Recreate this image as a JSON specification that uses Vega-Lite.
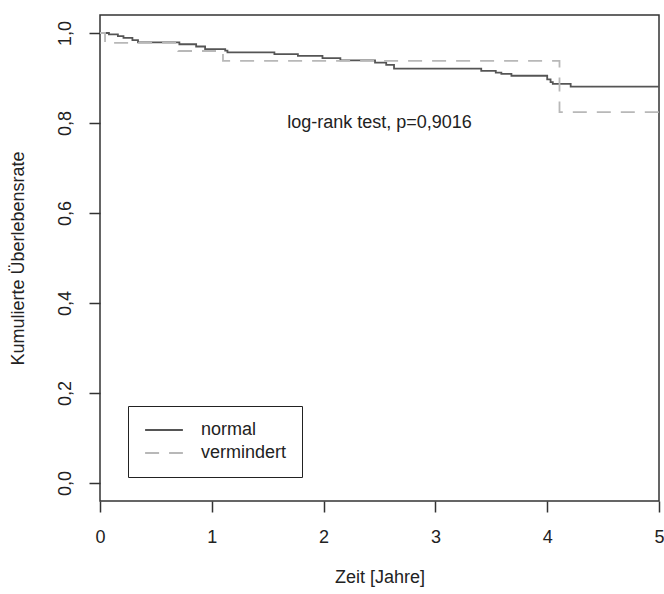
{
  "$schema": "https://vega.github.io/schema/vega-lite/v6.json",
  "autosize": "none",
  "width": 559,
  "height": 486,
  "padding": {"left": 100, "top": 15, "right": 5, "bottom": 93},
  "background": "white",
  "config": {
    "font": "Liberation Sans",
    "view": {"stroke": "#333333", "strokeWidth": 1.5},
    "axis": {
      "grid": false,
      "domain": false,
      "tickColor": "#333333",
      "tickWidth": 1.5,
      "tickSize": 11,
      "labelFont": "Liberation Sans",
      "labelFontSize": 18,
      "labelColor": "#222222",
      "titleFont": "Liberation Sans",
      "titleFontSize": 18,
      "titleFontWeight": "normal",
      "titleColor": "#222222"
    },
    "legend": {
      "labelFont": "Liberation Sans",
      "labelFontSize": 18,
      "labelColor": "#222222"
    }
  },
  "datasets": {
    "km": [
      {"gruppe": "normal", "zeit": 0, "rate": 1.0},
      {"gruppe": "normal", "zeit": 0.08, "rate": 0.997},
      {"gruppe": "normal", "zeit": 0.16, "rate": 0.993},
      {"gruppe": "normal", "zeit": 0.21, "rate": 0.989},
      {"gruppe": "normal", "zeit": 0.29, "rate": 0.984},
      {"gruppe": "normal", "zeit": 0.34, "rate": 0.979},
      {"gruppe": "normal", "zeit": 0.71, "rate": 0.975},
      {"gruppe": "normal", "zeit": 0.86, "rate": 0.970},
      {"gruppe": "normal", "zeit": 0.94, "rate": 0.964},
      {"gruppe": "normal", "zeit": 1.12, "rate": 0.961},
      {"gruppe": "normal", "zeit": 1.14, "rate": 0.957},
      {"gruppe": "normal", "zeit": 1.56, "rate": 0.953},
      {"gruppe": "normal", "zeit": 1.77, "rate": 0.949},
      {"gruppe": "normal", "zeit": 1.99, "rate": 0.944},
      {"gruppe": "normal", "zeit": 2.15, "rate": 0.939},
      {"gruppe": "normal", "zeit": 2.46, "rate": 0.934},
      {"gruppe": "normal", "zeit": 2.56, "rate": 0.929},
      {"gruppe": "normal", "zeit": 2.63, "rate": 0.921},
      {"gruppe": "normal", "zeit": 3.41, "rate": 0.916},
      {"gruppe": "normal", "zeit": 3.54, "rate": 0.912},
      {"gruppe": "normal", "zeit": 3.59, "rate": 0.909},
      {"gruppe": "normal", "zeit": 3.68, "rate": 0.905},
      {"gruppe": "normal", "zeit": 4.0, "rate": 0.897},
      {"gruppe": "normal", "zeit": 4.03, "rate": 0.891},
      {"gruppe": "normal", "zeit": 4.05, "rate": 0.887},
      {"gruppe": "normal", "zeit": 4.21, "rate": 0.881},
      {"gruppe": "normal", "zeit": 5.0, "rate": 0.881},
      {"gruppe": "vermindert", "zeit": 0, "rate": 1.0},
      {"gruppe": "vermindert", "zeit": 0.045, "rate": 0.978},
      {"gruppe": "vermindert", "zeit": 0.7, "rate": 0.96},
      {"gruppe": "vermindert", "zeit": 1.1, "rate": 0.938},
      {"gruppe": "vermindert", "zeit": 4.11, "rate": 0.824},
      {"gruppe": "vermindert", "zeit": 5.0, "rate": 0.824}
    ],
    "note": [
      {"zeit": 2.5, "rate": 0.8, "label": "log-rank test, p=0,9016"}
    ]
  },
  "layer": [
    {
      "data": {"name": "km"},
      "mark": {"type": "line", "interpolate": "step-after", "strokeWidth": 1.8, "clip": true},
      "encoding": {
        "x": {
          "field": "zeit", "type": "quantitative",
          "scale": {"domain": [0, 5], "nice": false, "zero": false},
          "axis": {"values": [0, 1, 2, 3, 4, 5], "format": "d", "title": "Zeit [Jahre]", "labelPadding": 16, "titlePadding": 22, "labelFlush": false}
        },
        "y": {
          "field": "rate", "type": "quantitative",
          "scale": {"domain": [-0.04, 1.04], "nice": false, "zero": false},
          "axis": {
            "values": [0, 0.2, 0.4, 0.6, 0.8, 1.0],
            "labelExpr": "replace(format(datum.value, '.1f'), '.', ',')",
            "labelAngle": -90, "labelAlign": "center", "labelBaseline": "bottom",
            "labelPadding": 15, "title": "Kumulierte Überlebensrate", "titlePadding": 29
          }
        },
        "color": {
          "field": "gruppe", "type": "nominal",
          "scale": {"domain": ["normal", "vermindert"], "range": ["#555555", "#b8b8b8"]},
          "legend": {
            "title": null, "orient": "none", "legendX": 28, "legendY": 391,
            "strokeColor": "#222222", "padding": 15, "rowPadding": 5,
            "symbolType": "M-2.7,0H2.7", "symbolSize": 196, "symbolStrokeWidth": 1.8,
            "symbolFillColor": "transparent", "symbolOffset": 12,
            "labelOffset": 28
          }
        },
        "strokeDash": {
          "field": "gruppe", "type": "nominal",
          "scale": {"domain": ["normal", "vermindert"], "range": [[1, 0], [14, 10]]},
          "legend": {
            "title": null, "orient": "none", "legendX": 28, "legendY": 391,
            "strokeColor": "#222222", "padding": 15, "rowPadding": 5,
            "symbolType": "M-2.7,0H2.7", "symbolSize": 196, "symbolStrokeWidth": 1.8,
            "symbolFillColor": "transparent", "symbolOffset": 12,
            "labelOffset": 28
          }
        }
      }
    },
    {
      "data": {"name": "note"},
      "mark": {"type": "text", "fontSize": 18, "font": "Liberation Sans", "color": "#222222", "align": "center", "baseline": "middle"},
      "encoding": {
        "x": {"field": "zeit", "type": "quantitative"},
        "y": {"field": "rate", "type": "quantitative"},
        "text": {"field": "label"}
      }
    }
  ]
}
